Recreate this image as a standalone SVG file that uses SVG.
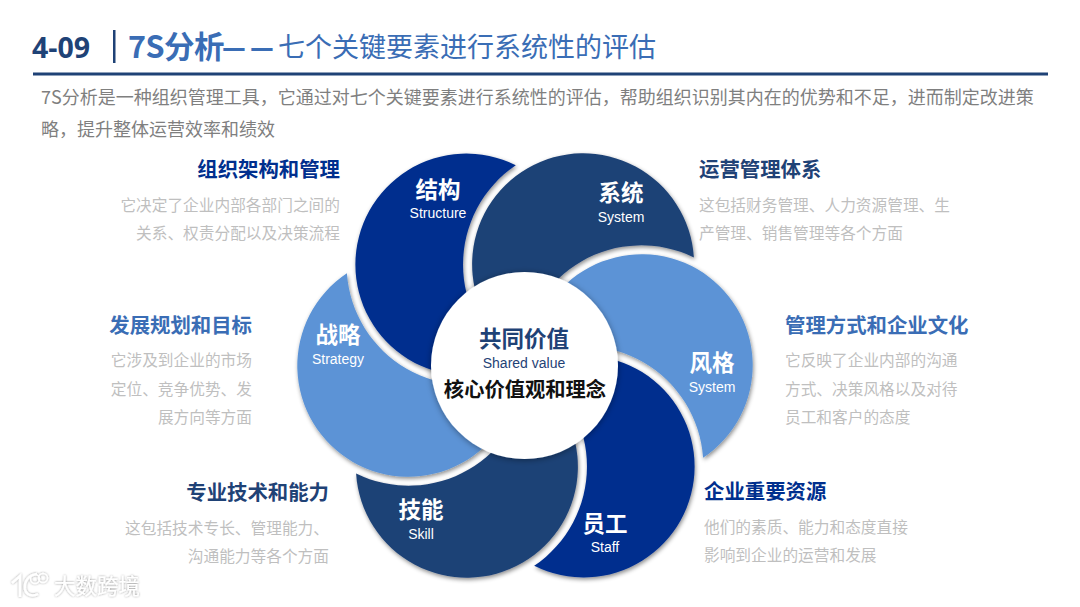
<svg xmlns="http://www.w3.org/2000/svg" width="1080" height="607" viewBox="0 0 1080 607">
<style>
text{font-family:"Noto Sans CJK SC","Noto Sans",sans-serif}
.h{font-size:20.400px;font-weight:700}
.b{font-size:15.700px;fill:#bfbfbf}
.e{text-anchor:end}
.n{font-size:22.500px;font-weight:700;fill:#fff;text-anchor:middle}
.l{font-family:"Liberation Sans",Arial,sans-serif;font-size:14px;fill:#fff;text-anchor:middle}
.p{filter:url(#sh)}
.dk{fill:#002f8e}.md{fill:#1f4276}.lt{fill:#5b93d6}
</style>
<defs>
<filter id="sh" x="-10%" y="-10%" width="120%" height="120%"><feDropShadow dx="1" dy="2" stdDeviation="2" flood-color="#000" flood-opacity=".45"/></filter>
<filter id="cs" x="-10%" y="-10%" width="120%" height="120%"><feDropShadow dx="0" dy="1" stdDeviation="3" flood-color="#000" flood-opacity=".4"/></filter>
<filter id="wm" x="-20%" y="-20%" width="140%" height="140%"><feDropShadow dx="0" dy="0" stdDeviation="1.200" flood-color="#000" flood-opacity=".45"/></filter>
</defs>
<rect width="1080" height="607" fill="#fff"/>
<g id="header">
<text x="32" y="57.500" font-size="28.500" font-weight="700" fill="#1f4276" style="font-family:'Open Sans','Noto Sans',sans-serif">4-09</text>
<rect x="113" y="30" width="2.500" height="33" fill="#1f4276"/>
<text x="128" y="58" font-size="30.500" font-weight="700" fill="#3a6db5" style="letter-spacing:-.5px">7S分析</text>
<text y="57" font-size="26" font-weight="900" fill="#3a6db5"><tspan x="222">—</tspan><tspan x="250">—</tspan></text>
<text x="278" y="57" font-size="27" fill="#3a6db5">七个关键要素进行系统性的评估</text>
<rect x="33" y="72.500" width="1015" height="3" fill="#1f4276"/>
<text x="41" y="103.500" font-size="18" fill="#7f7f7f">7S分析是一种组织管理工具，它通过对七个关键要素进行系统性的评估，帮助组织识别其内在的优势和不足，进而制定改进策</text>
<text x="41" y="136" font-size="18" fill="#7f7f7f">略，提升整体运营效率和绩效</text>
</g>
<g id="petal-strategy"><path class="p lt" d="M346.900 273.300A111 111 0 1 0 519.100 372.700A120 120 0 0 1 346.900 273.300Z"/></g>
<g id="petal-skill"><path class="p md" d="M356.100 473.600A111 111 0 1 0 528.300 374.200A120 120 0 0 1 356.100 473.600Z"/></g>
<g id="petal-staff"><path class="p dk" d="M534.200 565.800A111 111 0 1 0 534.200 367A120 120 0 0 1 534.200 565.800Z"/></g>
<g id="petal-style"><path class="p lt" d="M703.100 457.700A111 111 0 1 0 530.900 358.300A120 120 0 0 1 703.100 457.700Z"/></g>
<g id="petal-system"><path class="p md" d="M693.900 257.400A111 111 0 1 0 521.700 356.800A120 120 0 0 1 693.900 257.400Z"/></g>
<g id="petal-structure"><path class="p dk" d="M515.800 165.200A111 111 0 1 0 515.800 364A120 120 0 0 1 515.800 165.200Z"/></g>
<g id="node-structure"><text class="n" x="438" y="198">结构</text><text class="l" x="438" y="218">Structure</text></g>
<g id="node-system"><text class="n" x="621" y="201">系统</text><text class="l" x="621" y="222">System</text></g>
<g id="node-style"><text class="n" x="712" y="371">风格</text><text class="l" x="712" y="392">System</text></g>
<g id="node-staff"><text class="n" x="605" y="532">员工</text><text class="l" x="605" y="552">Staff</text></g>
<g id="node-skill"><text class="n" x="421" y="518">技能</text><text class="l" x="421" y="539">Skill</text></g>
<g id="node-strategy"><text class="n" x="338" y="343">战略</text><text class="l" x="338" y="364">Strategy</text></g>
<g id="node-center">
<circle cx="524.500" cy="365.500" r="93.500" fill="#fff" filter="url(#cs)"/>
<text x="524" y="347" font-size="22.500" font-weight="700" fill="#1f4276" text-anchor="middle">共同价值</text>
<text x="524" y="368" font-size="14" fill="#1f4276" text-anchor="middle" style="font-family:'Liberation Sans',Arial,sans-serif">Shared value</text>
<text x="525" y="397" font-size="20.300" font-weight="700" fill="#111" text-anchor="middle">核心价值观和理念</text>
</g>
<g id="desc-structure"><text class="h e" x="340" y="177" fill="#002f8e">组织架构和管理</text><text class="b e" x="340" y="211">它决定了企业内部各部门之间的</text><text class="b e" x="340" y="239">关系、权责分配以及决策流程</text></g>
<g id="desc-system"><text class="h" x="699" y="177" fill="#1f4276">运营管理体系</text><text class="b" x="699" y="211">这包括财务管理、人力资源管理、生</text><text class="b" x="699" y="239">产管理、销售管理等各个方面</text></g>
<g id="desc-style"><text class="h" x="785" y="333" fill="#3a6db5">管理方式和企业文化</text><text class="b" x="785" y="366">它反映了企业内部的沟通</text><text class="b" x="785" y="395">方式、决策风格以及对待</text><text class="b" x="785" y="423">员工和客户的态度</text></g>
<g id="desc-strategy"><text class="h e" x="252" y="333" fill="#3a6db5">发展规划和目标</text><text class="b e" x="252" y="366">它涉及到企业的市场</text><text class="b e" x="252" y="395">定位、竞争优势、发</text><text class="b e" x="252" y="423">展方向等方面</text></g>
<g id="desc-skill"><text class="h e" x="329" y="500" fill="#1f4276">专业技术和能力</text><text class="b e" x="329" y="534">这包括技术专长、管理能力、</text><text class="b e" x="329" y="562">沟通能力等各个方面</text></g>
<g id="desc-staff"><text class="h" x="704" y="499" fill="#002f8e">企业重要资源</text><text class="b" x="704" y="533">他们的素质、能力和态度直接</text><text class="b" x="704" y="561">影响到企业的运营和发展</text></g>
<g id="watermark" filter="url(#wm)">
<path d="M12 583L20 576V597M37 574C28 575 24 582 25 589C26 595 32 597 38 594" fill="none" stroke="#fff" stroke-width="2.500"/>
<circle cx="35" cy="579" r="4.500" fill="none" stroke="#fff" stroke-width="1.500"/>
<circle cx="43" cy="578" r="4.500" fill="none" stroke="#fff" stroke-width="1.500"/>
<text x="54" y="594" font-size="21.500" fill="#fff">大数跨境</text>
</g>
</svg>
